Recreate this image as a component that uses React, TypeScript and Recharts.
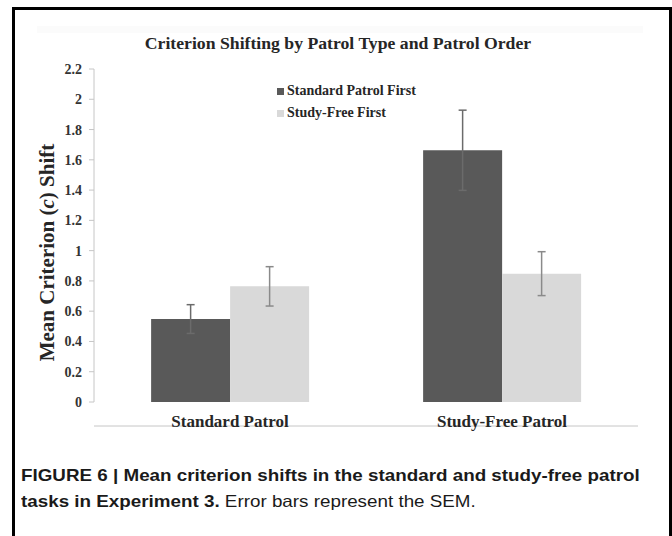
import { BarChart, Bar, XAxis, YAxis, ErrorBar, Legend } from "recharts";

const patrolTypes = ["Standard Patrol", "Study-Free Patrol"];
const standardFirst = [0.548, 1.663];
const standardFirstSem = [0.095, 0.265];
const studyFreeFirst = [0.764, 0.848];
const studyFreeFirstSem = [0.13, 0.145];
const yTicks = [0, 0.2, 0.4, 0.6, 0.8, 1, 1.2, 1.4, 1.6, 1.8, 2, 2.2];

const data = patrolTypes.map((name, i) => ({
  name,
  pos: i + 0.5,
  std: standardFirst[i],
  stdErr: standardFirstSem[i],
  free: studyFreeFirst[i],
  freeErr: studyFreeFirstSem[i],
}));

const serif = '"Liberation Serif", "Times New Roman", serif';
const sans = '"Liberation Sans", Arial, sans-serif';

function YLabel(props: any) {
  const vb = props.viewBox || {};
  const cx = 47;
  const cy = (vb.y ?? 0) + (vb.height ?? 0) / 2 + 17;
  return (
    <text
      x={cx}
      y={cy}
      transform={`rotate(-90 ${cx} ${cy})`}
      textAnchor="middle"
      dominantBaseline="central"
      fontFamily={serif}
      fontWeight="bold"
      fontSize={21}
      fill="#262626"
    >
      Mean Criterion (<tspan fontStyle="italic">c</tspan>) Shift
    </text>
  );
}

function LegendBox({ payload }: any) {
  return (
    <div style={{ fontFamily: serif, fontWeight: "bold", fontSize: 14, color: "#262626" }}>
      {(payload || []).map((p: any) => (
        <div key={p.value} style={{ height: 22, display: "flex", alignItems: "center" }}>
          <span style={{ width: 7, height: 7, background: p.color, marginRight: 3 }} />
          {p.value}
        </div>
      ))}
    </div>
  );
}

export default function App() {
  return (
    <div style={{ position: "absolute", left: 0, top: 0, width: 672, height: 536, background: "#fff" }}>
      <div
        style={{
          position: "absolute",
          left: 12,
          top: 7,
          width: 654,
          height: 540,
          borderLeft: "3px solid #000",
          borderTop: "3px solid #000",
          borderRight: "3px solid #000",
        }}
      />
      {/* faint chart-area edge from the scanned original */}
      <div style={{ position: "absolute", left: 37, top: 26, width: 606, height: 7, background: "#fbfbfb" }} />
      <div
        style={{
          position: "absolute",
          left: 0,
          width: 672,
          top: 33,
          paddingLeft: 2,
          textAlign: "center",
          fontFamily: serif,
          fontWeight: "bold",
          fontSize: 17.7,
          color: "#262626",
        }}
      >
        Criterion Shifting by Patrol Type and Patrol Order
      </div>
      <div style={{ position: "absolute", left: 0, top: 0 }}>
        <BarChart
          width={672}
          height={440}
          data={data}
          margin={{ top: 69, right: 34, bottom: 8, left: 34 }}
          barCategoryGap="21%"
          barGap={0}
        >
          <XAxis
            xAxisId="edge"
            type="number"
            dataKey="pos"
            domain={[0, 2]}
            ticks={[0, 1, 2]}
            tick={false}
            height={6}
            tickSize={5}
            axisLine={{ stroke: "#c6c6c6" }}
            tickLine={{ stroke: "#c6c6c6" }}
          />
          <XAxis
            dataKey="name"
            height={24}
            axisLine={false}
            tickLine={false}
            tickMargin={7}
            tick={{ fontFamily: serif, fontWeight: "bold", fontSize: 17, fill: "#262626" }}
          />
          <YAxis
            width={60}
            domain={[0, 2.2]}
            ticks={yTicks}
            interval={0}
            tickSize={5}
            tickMargin={7}
            axisLine={{ stroke: "#c6c6c6" }}
            tickLine={{ stroke: "#c6c6c6" }}
            tick={{ fontFamily: serif, fontWeight: "bold", fontSize: 14, fill: "#333" }}
            label={<YLabel />}
          />
          <Legend
            layout="vertical"
            verticalAlign="middle"
            align="center"
            wrapperStyle={{ left: 277, top: 80, width: 200 }}
            content={<LegendBox />}
          />
          <Bar dataKey="std" name="Standard Patrol First" fill="#595959" isAnimationActive={false}>
            <ErrorBar dataKey="stdErr" width={4} stroke="#6b6b6b" strokeWidth={1.5} />
          </Bar>
          <Bar dataKey="free" name="Study-Free First" fill="#d9d9d9" isAnimationActive={false}>
            <ErrorBar dataKey="freeErr" width={4} stroke="#8a8a8a" strokeWidth={1.5} />
          </Bar>
        </BarChart>
      </div>
      <div
        style={{
          position: "absolute",
          left: 21,
          top: 462,
          width: 560,
          fontFamily: sans,
          fontSize: 16.5,
          lineHeight: "26px",
          color: "#1a1a1a",
          whiteSpace: "nowrap",
          transform: "scaleX(1.14)",
          transformOrigin: "left top",
        }}
      >
        <b>FIGURE 6 | Mean criterion shifts in the standard and study-free patrol</b>
        <br />
        <b>tasks in Experiment 3.</b> Error bars represent the SEM.
      </div>
    </div>
  );
}
